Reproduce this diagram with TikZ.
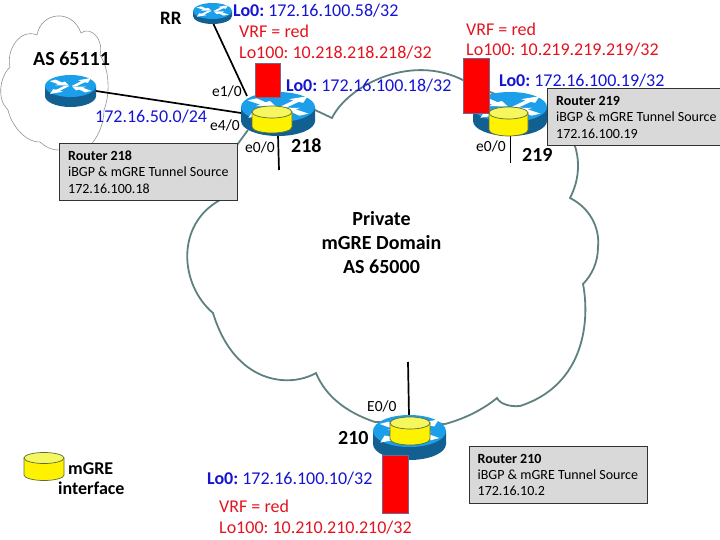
\documentclass[tikz,border=0pt]{standalone}
\usepackage{fontspec}
\setmainfont{Carlito}
\definecolor{cloudline}{HTML}{5F8080}
\definecolor{thincloud}{HTML}{8C9696}
\definecolor{rtop}{HTML}{1C9FEA}
\definecolor{rside}{HTML}{125F92}
\definecolor{cyltop}{HTML}{F6F65E}
\definecolor{cylline}{HTML}{5A6E3C}
\definecolor{lblue}{HTML}{1414D2}
\definecolor{lred}{HTML}{E4141E}
\definecolor{boxfill}{HTML}{D9D9D9}
\definecolor{vrfline}{HTML}{77668C}
\newcommand{\fsz}[2]{\fontsize{#1}{#2}\selectfont\frenchspacing\spaceskip=0.226em\relax}
\newcommand{\fsb}[2]{\fontsize{#1}{#2}\selectfont\bfseries\frenchspacing\spaceskip=0.226em\relax}
\tikzset{
  lab/.style={anchor=base west,inner sep=0pt,font=\fsz{#1}{#1}},
  bluelab/.style={lab=18,text=lblue},
  redlab/.style={lab=18,text=lred},
  portlab/.style={lab=15.5,text=black},
  boldlab/.style={anchor=base west,inner sep=0pt,font=\fsb{#1}{#1}},
  infobox/.style={draw=black!80,line width=0.8pt,fill=boxfill,anchor=north west,align=left,
    inner sep=0pt,minimum width=#1,minimum height=57pt,
    font=\fsz{14}{16.4}},
  link/.style={draw=black,line width=1.7pt},
  vrf/.style={draw=vrfline,line width=0.8pt,fill=red,inner sep=0pt,anchor=north west},
}
% cx, cy (centre of top face), rx, ry, body height
\newcommand{\rtrshape}[5]{%
  \fill[rside] (#1-#3,#2) -- (#1-#3,#2+#5) arc[start angle=180,end angle=0,x radius=#3,y radius=#4]
     -- (#1+#3,#2) -- cycle;
  \fill[rtop] (#1,#2) ellipse[x radius=#3,y radius=#4];
  \begin{scope}[shift={(#1,#2)},xscale=#3,yscale=#4]
    \fill[white] (0.06,-0.02) -- (0.42,-0.44) -- (0.30,-0.52) -- (0.80,-0.72) -- (0.68,-0.28) -- (0.56,-0.34) -- (0.24,0.02) -- cycle;
    \fill[white] (-0.06,0.02) -- (-0.42,0.44) -- (-0.30,0.52) -- (-0.80,0.72) -- (-0.68,0.28) -- (-0.56,0.34) -- (-0.24,-0.02) -- cycle;
    \fill[white] (-0.82,-0.44) -- (-0.58,-0.58) -- (-0.34,-0.32) -- (-0.22,-0.40) -- (-0.06,-0.04) -- (-0.60,-0.06) -- (-0.48,-0.16) -- cycle;
    \fill[white] (0.82,0.44) -- (0.58,0.58) -- (0.34,0.32) -- (0.22,0.40) -- (0.06,0.04) -- (0.60,0.06) -- (0.48,0.16) -- cycle;
  \end{scope}
}
% cx, cy (centre of top face), rx, ry, body height
\newcommand{\cylshape}[5]{%
  \filldraw[draw=cylline,line width=0.7pt,fill=yellow] (#1-#3,#2) -- (#1-#3,#2+#5)
     arc[start angle=180,end angle=0,x radius=#3,y radius=#4] -- (#1+#3,#2) -- cycle;
  \filldraw[draw=cylline,line width=0.7pt,fill=cyltop] (#1,#2) ellipse[x radius=#3,y radius=#4];
}
\begin{document}
\begin{tikzpicture}[x=1pt,y=-1pt]
\useasboundingbox (0,0) rectangle (720,540);
% small cloud
\draw[thincloud,line width=0.6pt]
  (37,35) .. controls (41,12) and (72,8) .. (81,33)
  .. controls (90,26) and (104,38) .. (100,55)
  .. controls (110,70) and (110,95) .. (104,110)
  .. controls (104,125) and (97,138) .. (90,146)
  -- (58,150)
  .. controls (52,150) and (45,147) .. (40,142)
  .. controls (28,143) and (12,128) .. (8,110)
  .. controls (-3,100) and (-1,78) .. (10,67)
  .. controls (6,50) and (20,28) .. (37,35) -- cycle;
% big cloud
\draw[cloudline,line width=1.8pt,line join=miter]
  (315,110) -- (332,118)
  .. controls (348,85) and (415,50) .. (470,84)
  -- (560,120)
  .. controls (582,145) and (582,175) .. (570,198)
  .. controls (590,208) and (600,228) .. (598,247)
  .. controls (598,262) and (592,275) .. (583,284)
  .. controls (590,320) and (585,385) .. (520,406)
  .. controls (510,407) and (500,404) .. (497,398)
  .. controls (480,412) and (460,420) .. (445,424)
  -- (375,422)
  .. controls (345,412) and (325,395) .. (316,373)
  .. controls (290,388) and (235,385) .. (213,313)
  .. controls (180,285) and (175,225) .. (220,200)
  -- (237,145) -- (248,130);
% coordinates for router ports
\coordinate (rrport) at (213,23);
\coordinate (asport) at (96,91);
\coordinate (p218a) at (247,96);
\coordinate (p218b) at (241,113);
\coordinate (p218c) at (278,135);
\coordinate (e218) at (279,170);
\coordinate (p219) at (510.5,136);
\coordinate (e219) at (510.5,163);
\coordinate (p210) at (409,415);
\coordinate (e210) at (408,362);
\draw[link] (rrport) -- (p218a);
\draw[link] (asport) -- (p218b);
\draw[link] (p218c) -- (e218);
\draw[link] (p219) -- (e219);
\draw[link] (p210) -- (e210);
% routers
\rtrshape{212.5}{11}{19.5}{8}{5}
\rtrshape{70.5}{86}{25.5}{11}{10}
\rtrshape{278}{107}{37}{15}{14}
\rtrshape{510}{107}{37}{15}{14}
\rtrshape{409.5}{431}{36.5}{16}{13}
% VRF boxes and cylinders
\node[vrf,minimum width=25pt,minimum height=34pt] (v218) at (255,63.5) {};
\node[vrf,minimum width=26pt,minimum height=55pt] (v219) at (463,58) {};
\cylshape{272}{112}{20}{6}{15}
\cylshape{508.5}{113}{19.5}{6}{17}
\cylshape{410}{423}{20}{6}{16}
\node[vrf,minimum width=26pt,minimum height=58pt] (v210) at (382,455) {};
\cylshape{44}{458}{20}{5.5}{17}
% info boxes
\node[infobox=178pt] (b218) at (59,143) {\textbf{Router 218}\\iBGP \& mGRE Tunnel Source\\172.16.100.18};
\node[infobox=178pt] (b219) at (547,88.5) {\textbf{Router 219}\\iBGP \& mGRE Tunnel Source\\172.16.100.19};
\node[infobox=178pt] (b210) at (468.5,446) {\textbf{Router 210}\\iBGP \& mGRE Tunnel Source\\172.16.10.2};
% labels
\node[boldlab=19] (trr) at (160,25) {RR};
\node[boldlab=20] (tas) at (33,65.5) {AS 65111};
\node[bluelab] (l1) at (233,17) {\textbf{Lo0:} 172.16.100.58/32};
\node[redlab] (l2) at (239,38) {VRF = red};
\node[redlab] (l3) at (239,59) {Lo100: 10.218.218.218/32};
\node[bluelab] (l4) at (286,92) {\textbf{Lo0:} 172.16.100.18/32};
\node[bluelab] (l5) at (95,123) {172.16.50.0/24};
\node[portlab] (p1) at (212,97) {e1/0};
\node[portlab] (p2) at (210,131) {e4/0};
\node[portlab] (p3) at (245,153) {e0/0};
\node[boldlab=20] (n218) at (291,152.5) {218};
\node[redlab] (l6) at (466,36) {VRF = red};
\node[redlab] (l7) at (466,56) {Lo100: 10.219.219.219/32};
\node[bluelab] (l8) at (499,87) {\textbf{Lo0:} 172.16.100.19/32};
\node[portlab] (p4) at (476,152) {e0/0};
\node[boldlab=20] (n219) at (522,161.5) {219};
\node[anchor=base,inner sep=0pt,align=center,font=\fsb{20}{24}] (dom) at (381.5,273) {Private\\mGRE Domain\\AS 65000};
\node[portlab] (p5) at (367,411) {E0/0};
\node[boldlab=20] (n210) at (338,444.5) {210};
\node[bluelab] (l9) at (207,484) {\textbf{Lo0:} 172.16.100.10/32};
\node[redlab] (l10) at (219,512) {VRF = red};
\node[redlab] (l11) at (219,533) {Lo100: 10.210.210.210/32};
\node[boldlab=18] (leg1) at (68,474) {mGRE};
\node[boldlab=18] (leg2) at (58,494) {interface};
\end{tikzpicture}
\end{document}
